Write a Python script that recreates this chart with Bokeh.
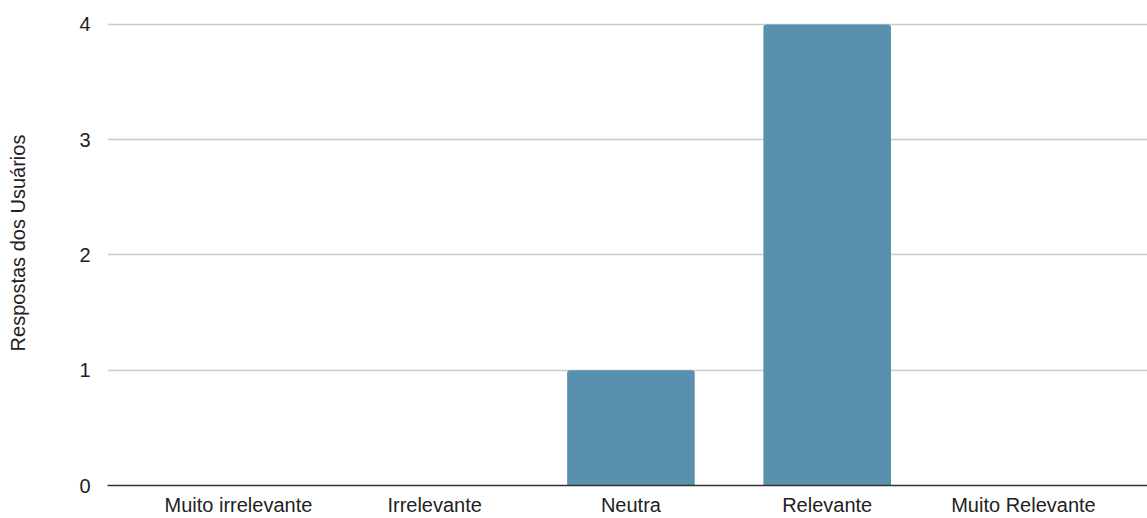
from bokeh.plotting import figure
from bokeh.models import Range1d, FixedTicker, ColumnDataSource
from bokeh.embed import file_html
from bokeh.resources import INLINE

# Survey answers per relevance level
categories = ["Muito irrelevante", "Irrelevante", "Neutra", "Relevante", "Muito Relevante"]
responses = [0, 0, 1, 4, 0]
y_ticks = [0, 1, 2, 3, 4]

FONT = "Liberation Sans"
TEXT = "#222222"
BAR = "#5890ae"

xs = list(range(len(categories)))
src = ColumnDataSource(dict(x=xs, top=responses))

p = figure(
    width=1147, height=518,
    x_range=Range1d(-0.667, len(categories) - 1 + 0.632),
    y_range=Range1d(0, 4.208),
    output_backend="svg", toolbar_location=None,
    min_border_left=107, min_border_right=0, min_border_top=0, min_border_bottom=32,
)
p.outline_line_color = None
p.background_fill_color = "white"
p.border_fill_color = "white"

p.vbar(x="x", top="top", width=0.65, source=src, fill_color=BAR,
       line_color=None, border_radius=(3, 3, 0, 0))

# x axis: category names under each bar
p.xaxis.ticker = FixedTicker(ticks=xs)
p.xaxis.major_label_overrides = {i: c for i, c in enumerate(categories)}
p.xaxis.major_tick_line_color = None
p.xaxis.minor_tick_line_color = None
p.xaxis.axis_line_color = "#333333"
p.xaxis.axis_line_width = 1.3
p.xaxis.major_label_text_font = FONT
p.xaxis.major_label_text_font_size = "20px"
p.xaxis.major_label_text_color = TEXT
p.xaxis.major_label_standoff = 2

# y axis
p.yaxis.ticker = FixedTicker(ticks=y_ticks)
p.yaxis.axis_line_color = None
p.yaxis.major_tick_line_color = None
p.yaxis.minor_tick_line_color = None
p.yaxis.major_label_text_font = FONT
p.yaxis.major_label_text_font_size = "20px"
p.yaxis.major_label_text_color = TEXT
p.yaxis.major_label_standoff = 11
p.yaxis.axis_label = "Respostas dos Usuários"
p.yaxis.axis_label_text_font = FONT
p.yaxis.axis_label_text_font_size = "20px"
p.yaxis.axis_label_text_font_style = "normal"
p.yaxis.axis_label_text_color = TEXT
p.yaxis.axis_label_standoff = 47

p.xgrid.grid_line_color = None
p.ygrid.grid_line_color = "#cccccc"
p.ygrid.grid_line_width = 1.3

open("out.html", "w").write(file_html(p, INLINE))
